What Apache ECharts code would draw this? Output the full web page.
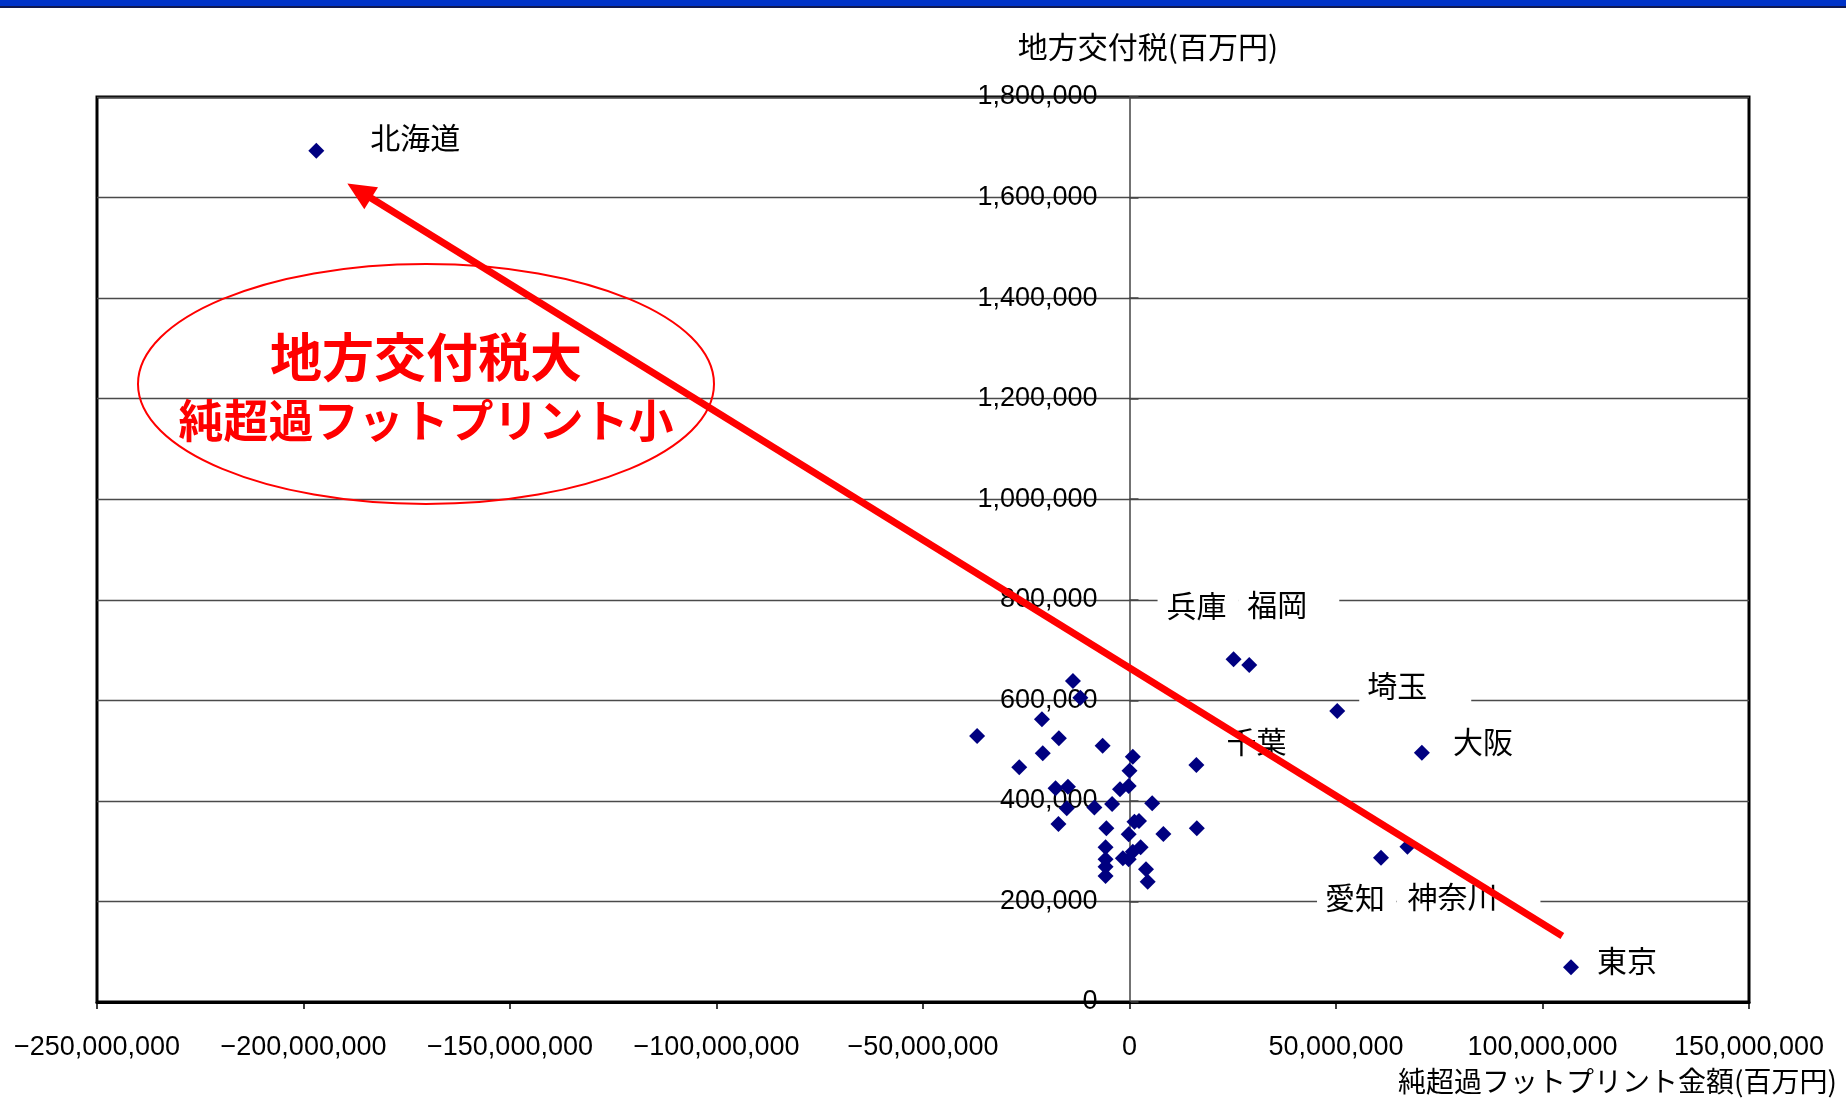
<!DOCTYPE html>
<html>
<head>
<meta charset="utf-8">
<script src="https://cdn.jsdelivr.net/npm/echarts@6/dist/echarts.min.js"></script>
<style>
  html, body { margin: 0; padding: 0; background: #fff; }
  #chart { width: 1846px; height: 1111px; }
</style>
</head>
<body>
<div id="chart"></div>
<script>
// 都道府県別：純超過フットプリント金額 と 地方交付税
const namedPrefs = ['北海道', '兵庫', '福岡', '埼玉', '千葉', '大阪', '愛知', '神奈川', '東京'];
const namedFootprint = [-196900000, 25200000, 29000000, 50300000, 16200000, 70800000, 60900000, 67300000, 106900000];
const namedGrant = [1693000, 681600, 670300, 578800, 471400, 495800, 287000, 308900, 69000];

// その他の県（ラベルなし）
const otherFootprint = [
  -36900000, -13700000, -11900000, -21200000, -17100000, -21000000, -26700000, -6500000,
  800000, 0, -200000, -2300000, -17900000, -14900000, -15200000, -8500000,
  -4200000, 5500000, -17200000, -5600000, -200000, 1200000, 2300000, 8200000,
  16300000, -5800000, -5800000, -5800000, -5800000, -1600000, -200000, 800000,
  2700000, 4000000, 4400000
];
const otherGrant = [
  529000, 638400, 605200, 562300, 524500, 494600, 466800, 509800,
  487900, 460000, 429600, 423000, 425000, 428200, 385200, 387000,
  393800, 395200, 354000, 345500, 333500, 358600, 360000, 334100,
  345500, 307700, 283800, 269100, 250600, 285800, 283800, 299000,
  307700, 263900, 239300
];

// 傾向を示す矢印（始点 → 終点）
const trendFrom = [104800000, 131300];
const trendTo = [-186500000, 1613400];

const xTitle = '純超過フットプリント金額(百万円)';
const yTitle = '地方交付税(百万円)';
const noteLines = ['地方交付税大', '純超過フットプリント小'];

// ラベルの配置（シンボル中心からのずれ）
const labelPlacement = {
  '北海道': { offset: [54, -13] },
  '兵庫':   { offset: [-76, -54], pad: [4, 12, 4, 9], bg: true },
  '福岡':   { offset: [-11, -60], pad: [4, 32, 4, 9], bg: true },
  '埼玉':   { offset: [22, -25], pad: [4, 44, 4, 8], bg: true },
  '千葉':   { offset: [30, -23] },
  '大阪':   { offset: [31, -11] },
  '愛知':   { offset: [-64, 40], pad: [4, 11, 4, 8], bg: true },
  '神奈川': { offset: [-11, 50], pad: [4, 43, 4, 11], bg: true },
  '東京':   { offset: [26, -7] }
};

const numFont = "'Liberation Sans', Arial, sans-serif";
const jpFont = "'Noto Sans CJK JP', sans-serif";
const markColor = '#000080';

// 縦軸を横軸の 0 の位置に置くためのずらし量
const GRID_LEFT = 97, GRID_RIGHT = 97;
const PLOT_W = 1846 - GRID_LEFT - GRID_RIGHT;
const X_MIN = -250000000, X_MAX = 150000000;
const yAxisShift = -PLOT_W * (0 - X_MIN) / (X_MAX - X_MIN);

function fmt(v) {
  const s = Math.abs(v).toLocaleString('en-US');
  return v < 0 ? '\u2212' + s : s;
}

const namedData = namedPrefs.map((n, i) => {
  const p = labelPlacement[n];
  return {
    name: n,
    value: [namedFootprint[i], namedGrant[i]],
    label: {
      show: true,
      position: 'inside',
      align: 'left',
      verticalAlign: 'middle',
      offset: p.offset,
      formatter: '{b}',
      color: '#000',
      fontFamily: jpFont,
      fontSize: 30,
      backgroundColor: p.bg ? '#fff' : 'transparent',
      padding: p.pad || 0
    }
  };
});

const otherData = otherFootprint.map((x, i) => [x, otherGrant[i]]);

const chart = echarts.init(document.getElementById('chart'), null, { renderer: 'canvas' });

chart.setOption({
  backgroundColor: '#fff',
  animation: false,
  grid: {
    left: GRID_LEFT, top: 97, right: GRID_RIGHT, bottom: 109,
    containLabel: false,
    outerBoundsMode: 'none',
    show: true, borderColor: '#000', borderWidth: 3, backgroundColor: '#fff'
  },
  xAxis: {
    type: 'value',
    min: X_MIN, max: X_MAX, interval: 50000000,
    axisLine: { show: true, onZero: false, lineStyle: { color: '#000', width: 3 } },
    axisTick: { show: true, inside: false, length: 7, lineStyle: { color: '#000', width: 1.5 } },
    splitLine: { show: false },
    axisLabel: {
      margin: 32, color: '#000', fontFamily: numFont, fontSize: 27,
      showMinLabel: true, showMaxLabel: true, hideOverlap: false,
      formatter: fmt
    }
  },
  yAxis: {
    type: 'value',
    min: 0, max: 1800000, interval: 200000,
    position: 'left',
    offset: yAxisShift,
    axisLine: { show: true, onZero: false, lineStyle: { color: '#444', width: 1.5 } },
    axisTick: { show: true, inside: true, length: 9, lineStyle: { color: '#444', width: 1.5 } },
    splitLine: { show: true, lineStyle: { color: '#4a4a4a', width: 1.4 } },
    axisLabel: {
      margin: 32, color: '#000', fontFamily: numFont, fontSize: 27,
      showMinLabel: true, showMaxLabel: true,
      formatter: fmt
    }
  },
  series: [
    {
      type: 'scatter',
      name: 'others',
      symbol: 'diamond',
      symbolSize: 16,
      itemStyle: { color: markColor, opacity: 1 },
      data: otherData,
      z: 2
    },
    {
      type: 'scatter',
      name: 'named',
      symbol: 'diamond',
      symbolSize: 16,
      itemStyle: { color: markColor, opacity: 1 },
      data: namedData,
      z: 2
    },
    {
      type: 'scatter',
      name: 'trend',
      data: [],
      z: 6,
      markLine: {
        silent: true,
        z: 6,
        symbol: ['none', 'triangle'],
        symbolSize: [26, 28],
        label: { show: false },
        lineStyle: { color: '#ff0000', width: 7, type: 'solid', opacity: 1 },
        data: [[
          { coord: trendFrom, symbol: 'none' },
          { coord: trendTo, symbol: 'triangle' }
        ]]
      }
    }
  ],
  graphic: [
    { type: 'rect', left: 0, top: 0, shape: { width: 1846, height: 6 }, style: { fill: '#0033c8' }, z: 10 },
    { type: 'rect', left: 0, top: 6, shape: { width: 1846, height: 2 }, style: { fill: '#101850' }, z: 10 },
    {
      type: 'text', x: 1148, y: 47, z: 10,
      style: { text: yTitle, fill: '#000', font: '30px ' + jpFont, align: 'center', verticalAlign: 'middle' }
    },
    {
      type: 'text', x: 1837, y: 1081, z: 10,
      style: { text: xTitle, fill: '#000', font: '28px ' + jpFont, align: 'right', verticalAlign: 'middle' }
    },
    {
      type: 'ellipse', z: 7,
      shape: { cx: 426, cy: 384, rx: 288, ry: 120 },
      style: { fill: 'none', stroke: '#ff0000', lineWidth: 2 }
    },
    {
      type: 'text', x: 426, y: 357, z: 8,
      style: { text: noteLines[0], fill: '#ff0000', font: 'bold 52px ' + jpFont, align: 'center', verticalAlign: 'middle' }
    },
    {
      type: 'text', x: 426, y: 421, z: 8,
      style: { text: noteLines[1], fill: '#ff0000', font: 'bold 45px ' + jpFont, align: 'center', verticalAlign: 'middle' }
    }
  ]
});
</script>
</body>
</html>
